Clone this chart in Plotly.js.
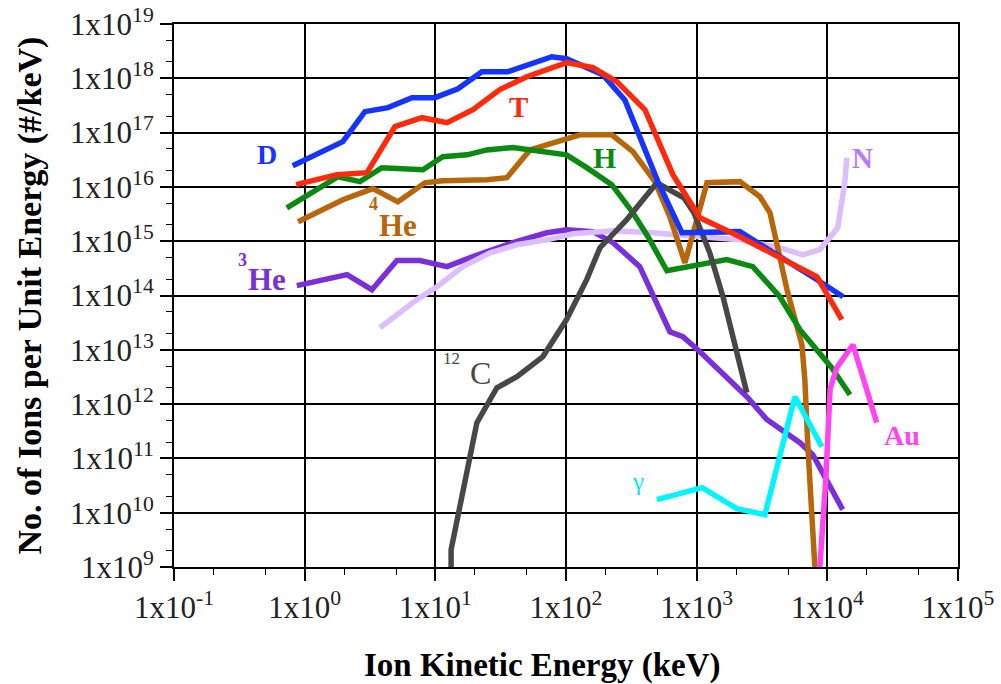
<!DOCTYPE html>
<html><head><meta charset="utf-8">
<script src="https://cdn.plot.ly/plotly-3.0.1.min.js"></script>
<style>body{margin:0;background:#fff}#chart{width:1001px;height:684px}</style>
</head><body><div id="chart"></div>
<script>
// Ion Kinetic Energy (keV) and No. of Ions per Unit Energy (#/keV)
const D_x = [0.81, 1.96, 2.89, 4.34, 6.62, 9.93, 14.9, 22.7, 35.9, 78, 101, 191, 282, 505, 771, 1060, 2140, 8340, 13200];
const D_y = [2.46e16, 6.8e16, 2.43e17, 2.88e17, 4.4e17, 4.4e17, 6.4e17, 1.32e18, 1.32e18, 2.5e18, 2.3e18, 1.16e18, 4.0e17, 1.25e16, 1.43e15, 1.43e15, 1.5e15, 1.95e14, 9.5e13];

const T_x = [0.86, 1.77, 3.0, 4.91, 7.9, 12.3, 19.4, 31.2, 50.2, 79.4, 101, 161, 245, 402, 658, 1060, 2140, 8340, 12900];
const T_y = [1.1e16, 1.68e16, 1.83e16, 1.29e17, 1.88e17, 1.52e17, 2.64e17, 6.2e17, 1.07e18, 1.64e18, 1.94e18, 1.57e18, 8.7e17, 2.64e17, 1.68e16, 2.7e15, 1.21e15, 2.2e14, 3.6e13];

const H_x = [0.73, 1.80, 2.65, 3.90, 8.04, 11.4, 17.5, 24.8, 39.2, 63, 101, 144, 224, 325, 424, 592, 1700, 2690, 4330, 6170, 10800, 14900];
const H_y = [4.1e15, 1.54e16, 1.25e16, 2.26e16, 2.07e16, 3.6e16, 3.9e16, 4.8e16, 5.3e16, 4.45e16, 3.9e16, 2.26e16, 1.1e16, 3.35e15, 1.21e15, 2.86e14, 4.57e14, 3.4e14, 9.5e13, 2.34e13, 4.7e12, 1.49e12];

const He4_x = [0.89, 1.96, 3.33, 5.17, 8.32, 11.4, 24.8, 35.3, 53, 79.4, 128, 224, 325, 479, 624, 813, 1005, 1200, 2140, 3050, 3640, 4910, 6390, 6730, 7100, 8030];
const He4_y = [2.29e15, 5.8e15, 9.3e15, 5.3e15, 1.19e16, 1.3e16, 1.36e16, 1.48e16, 4.8e16, 6.5e16, 9.1e16, 9.1e16, 4.45e16, 1.25e16, 2.8e15, 4.0e14, 2.8e15, 1.19e16, 1.25e16, 6.6e15, 3.35e15, 1.28e14, 1.24e13, 2.8e12, 1.64e11, 1.0e9];

const He3_x = [0.87, 2.11, 3.27, 5.08, 7.62, 12.3, 19.4, 39.2, 71.4, 101, 161, 229, 367, 624, 784, 1060, 2420, 3440, 6170, 7740, 13100];
const He3_y = [1.52e14, 2.42e14, 1.28e14, 4.4e14, 4.4e14, 3.4e14, 5.2e14, 9.4e14, 1.43e15, 1.63e15, 1.5e15, 9.4e14, 3.4e14, 2.15e13, 1.74e13, 9.2e12, 1.37e12, 5.2e11, 1.95e11, 1.17e11, 1.14e10];

const N_x = [3.77, 5.36, 7.23, 10.3, 16.3, 26.2, 42.1, 71.4, 113, 229, 462, 1060, 2140, 4330, 6500, 8770, 12000, 13600, 14100];
const N_y = [2.55e13, 4.8e13, 8.4e13, 1.45e14, 3.4e14, 6.1e14, 8.6e14, 1.06e15, 1.37e15, 1.56e15, 1.43e15, 1.21e15, 1.06e15, 7.6e14, 5.6e14, 7.0e14, 1.77e15, 1.19e16, 3.45e16];

const C12_x = [13.2, 13.2, 20.8, 29.6, 42.1, 66.6, 101, 144, 182, 292, 496, 798, 952, 1260, 1590, 2420];
const C12_y = [1.0e9, 2.08e9, 4.56e11, 2.0e12, 3.2e12, 7.5e12, 3.6e13, 1.96e14, 7.6e14, 2.5e15, 1.19e16, 6.3e15, 3.35e15, 6.1e14, 9.5e13, 1.62e12];

const G_x = [497, 1100, 2030, 3330, 5650, 9080];
const G_y = [1.74e10, 2.9e10, 1.19e10, 9.2e9, 1.37e12, 1.64e11];

const Au_x = [8770, 9730, 10500, 11800, 15700, 23900];
const Au_y = [1.0e9, 4.0e10, 1.9e12, 4.7e12, 1.24e13, 4.56e11];

const xTickVals = [1e-1, 1e0, 1e1, 1e2, 1e3, 1e4, 1e5];
const xTickText = ['1x10<sup>-1</sup>', '1x10<sup>0</sup>', '1x10<sup>1</sup>', '1x10<sup>2</sup>', '1x10<sup>3</sup>', '1x10<sup>4</sup>', '1x10<sup>5</sup>'];
const yTickVals = [1e9, 1e10, 1e11, 1e12, 1e13, 1e14, 1e15, 1e16, 1e17, 1e18, 1e19];
const yTickText = ['1x10<sup>9</sup>', '1x10<sup>10</sup>', '1x10<sup>11</sup>', '1x10<sup>12</sup>', '1x10<sup>13</sup>', '1x10<sup>14</sup>', '1x10<sup>15</sup>', '1x10<sup>16</sup>', '1x10<sup>17</sup>', '1x10<sup>18</sup>', '1x10<sup>19</sup>'];

const series = [
  {name: '<sup>3</sup>He', x: He3_x, y: He3_y, color: '#7B2FDB'},
  {name: 'N', x: N_x, y: N_y, color: '#DCBEFF'},
  {name: '<sup>4</sup>He', x: He4_x, y: He4_y, color: '#B8660A'},
  {name: 'H', x: H_x, y: H_y, color: '#0B8A12'},
  {name: '<sup>12</sup>C', x: C12_x, y: C12_y, color: '#474747'},
  {name: 'D', x: D_x, y: D_y, color: '#1634FF'},
  {name: 'T', x: T_x, y: T_y, color: '#FF2A0C'},
  {name: 'γ', x: G_x, y: G_y, color: '#00F5FF'},
  {name: 'Au', x: Au_x, y: Au_y, color: '#FF44F0'}
];

const traces = series.map(s => ({
  type: 'scatter', mode: 'lines', name: s.name, x: s.x, y: s.y,
  line: {color: s.color, width: 5.5}, hoverinfo: 'x+y+name'
}));

const serif = 'Liberation Serif';
// paper coordinates: plot area x 174..958, y 24..567
function px(X) { return (X - 174) / 784; }
function py(Y) { return (567 - Y) / 543; }
function lab(text, x, y, color, size, bold) {
  return {text: bold === false ? text : '<b>' + text + '</b>', x: px(x), y: py(y), xref: 'paper', yref: 'paper', showarrow: false,
    font: {family: serif, size: size, color: color}, xanchor: 'center', yanchor: 'middle'};
}

const annotations = [
  lab('D', 267, 154, '#1634FF', 28),
  lab('T', 518, 107, '#FF2A0C', 29),
  lab('H', 604, 157, '#0B8A12', 30),
  lab('4', 373, 204, '#B8660A', 18),
  lab('He', 398, 225, '#B8660A', 31),
  lab('3', 242, 260, '#7B2FDB', 18),
  lab('He', 267, 279, '#7B2FDB', 31),
  lab('12', 451, 358, '#474747', 17, false),
  lab('C', 480, 373, '#474747', 32, false),
  lab('N', 862, 158, '#B47BFF', 29),
  lab('γ', 638, 481, '#00E8F5', 25, false),
  lab('Au', 902, 435, '#FF44F0', 28),
  {text: '<b>Ion Kinetic Energy (keV)</b>', x: px(542), y: py(665), xref: 'paper', yref: 'paper', showarrow: false,
    font: {family: serif, size: 33, color: '#000'}, xanchor: 'center', yanchor: 'middle'}
];

const axisCommon = {
  type: 'log', showline: true, linecolor: '#000', linewidth: 2, mirror: true,
  showgrid: true, gridcolor: '#000', gridwidth: 1.5, zeroline: false,
  ticks: 'outside', ticklen: 12, tickwidth: 1.5, tickcolor: '#000',
  tickfont: {family: serif, size: 31, color: '#222'},
  minor: {ticks: 'outside', ticklen: 6, tickwidth: 1.2, tickcolor: '#000', showgrid: false}
};

const layout = {
  width: 1001, height: 684,
  margin: {l: 174, r: 43, t: 24, b: 117},
  paper_bgcolor: '#fff', plot_bgcolor: '#fff',
  showlegend: false,
  xaxis: Object.assign({}, axisCommon, {
    range: [-1, 5], tickvals: xTickVals, ticktext: xTickText
  }),
  yaxis: Object.assign({}, axisCommon, {
    range: [9, 19], tickvals: yTickVals, ticktext: yTickText,
    title: {text: '<b>No. of Ions per Unit Energy (#/keV)</b>', font: {family: serif, size: 34, color: '#000'}, standoff: 18}
  }),
  annotations: annotations
};

Plotly.newPlot('chart', traces, layout, {displayModeBar: false});
</script>
</body></html>
